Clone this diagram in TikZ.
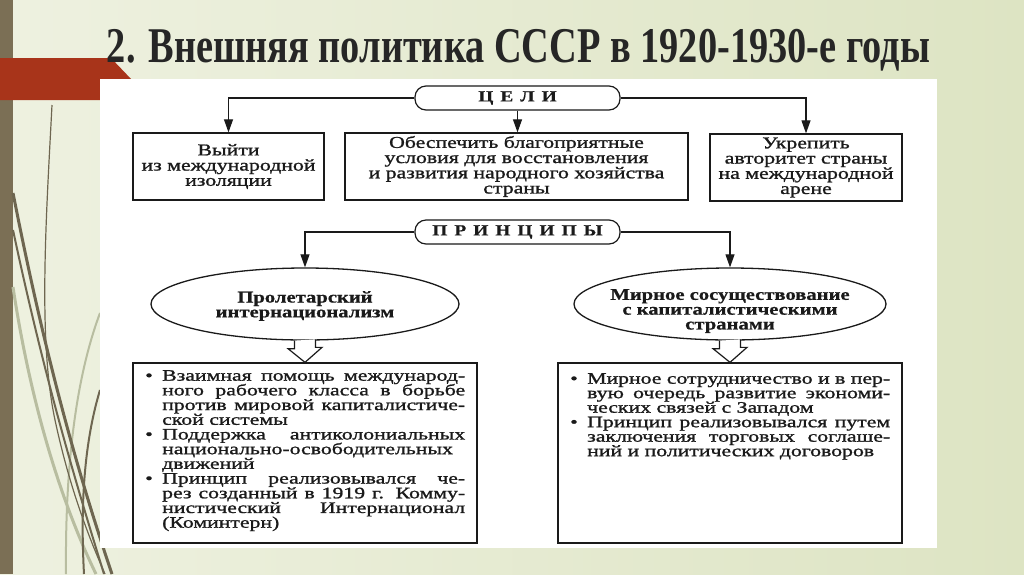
\documentclass[tikz,border=0pt]{standalone}
\usepackage{fontspec}
\usepackage{graphicx}
\setmainfont{Liberation Serif}
\newfontfamily\df[FakeStretch=1.32,FakeBold=1.2]{Liberation Serif}
\newfontfamily\dfl[FakeStretch=1.36,FakeBold=1.2]{Liberation Serif}
\newfontfamily\dfb[FakeStretch=1.25,FakeBold=0.6]{Liberation Serif}
\usetikzlibrary{arrows.meta,shapes.geometric}
\definecolor{bgl}{HTML}{EEF1E0}
\definecolor{bgr}{HTML}{DDE4C3}
\definecolor{barcol}{HTML}{7B6F55}
\definecolor{redcol}{HTML}{A8341A}
\definecolor{curvedark}{HTML}{6E6650}
\definecolor{curvelight}{HTML}{B8BDA0}
\definecolor{inkcol}{HTML}{1A1A1A}
\definecolor{titlecol}{HTML}{262626}
\newcommand\tightlines{\lineskiplimit=-50pt\lineskip=0pt}
\newcommand\boxfont{\df\fontsize{16.5}{15.2}\selectfont\tightlines}
\newcommand\listfonta{\dfl\fontsize{16}{14.7}\selectfont\tightlines}
\newcommand\listfontb{\dfl\fontsize{16}{14.5}\selectfont\tightlines}
\newcommand\pillfont{\dfb\bfseries\fontsize{15.5}{15}\selectfont}
\newcommand\ovalfont{\dfb\bfseries\fontsize{16.5}{14.8}\selectfont\tightlines}
\newlength\jlw
\newcommand\jline[2]{\settowidth\jlw{#2}\ifdim\jlw>#1\relax\resizebox{#1}{\height}{#2}\else\makebox[#1][s]{#2}\fi}
\newcommand\bitem[1]{\makebox[17pt][l]{\textbullet}\jline{303pt}{#1}}
\newcommand\citem[1]{\hspace*{17pt}\jline{303pt}{#1}}
\newcommand\litem[1]{\hspace*{17pt}#1}
\begin{document}
\begin{tikzpicture}[x=1pt,y=-1pt,
  conn/.style={line width=1.1pt,draw=inkcol,-{Triangle[length=13pt,width=9pt]}},
  pill/.style={draw=inkcol,line width=1.2pt,rounded corners=11pt,minimum width=205pt,minimum height=24pt,inner sep=0pt,font=\pillfont,text=inkcol},
  goalbox/.style={draw=inkcol,line width=1.3pt,minimum height=67pt,inner sep=0pt,align=center,font=\boxfont,text=inkcol},
  oval/.style={draw=inkcol,ellipse,line width=1.3pt,minimum height=72pt,inner sep=0pt},
  ovaltext/.style={align=center,font=\ovalfont,inner sep=0pt,text=inkcol},
  listbox/.style={draw=inkcol,line width=1.3pt,minimum width=344pt,minimum height=180pt,inner sep=0pt},
  listtext/.style={anchor=north west,inner sep=0pt,align=left,text=inkcol},
  hollow/.style={draw=inkcol,line width=1.2pt,fill=white,line join=miter}]
\useasboundingbox (0,0) rectangle (1024,574);
% background
\shade[left color=bgl,right color=bgr] (0,0) rectangle (1024,574);
\fill[barcol] (0,0) rectangle (13,574);
% decorative curves
\draw[curvelight,line width=3pt] (13,287) .. controls (30,400) and (60,500) .. (96,574);
\draw[curvelight,line width=2pt] (100,313) .. controls (75,380) and (65,470) .. (66,574);
\draw[curvedark,line width=1.2pt] (52,105) .. controls (46,220) and (38,340) .. (55,420) .. controls (70,490) and (90,540) .. (105,574);
\draw[curvedark,line width=3pt] (13,193) .. controls (40,330) and (70,450) .. (112,574);
\draw[curvedark,line width=2pt] (13,230) .. controls (45,380) and (75,480) .. (104,574);
\draw[curvedark,line width=2pt] (100,390) .. controls (85,440) and (80,500) .. (84,574);
% red band
\fill[redcol] (13,58) -- (111,58) -- (132,80) -- (110,100) -- (0,100) -- (0,58) -- cycle;
% white panel
\fill[white] (100,79) rectangle (937,548);
% title
\node[anchor=base,text=titlecol,inner sep=0pt] (title) at (518.5,62) {\resizebox{823pt}{\height}{\fontsize{50}{50}\selectfont\bfseries 2. Внешняя политика СССР в 1920-1930-е годы}};
% goals
\node[pill] (goals) at (517.5,98) {Ц\hspace{7pt}Е\hspace{7pt}Л\hspace{7pt}И};
\node[goalbox,minimum width=191pt] (b1) at (228.5,166.5) {Выйти\\из международной\\изоляции};
\node[goalbox,minimum width=343pt] (b2) at (516.5,166.5) {Обеспечить благоприятные\\условия для восстановления\\и развития народного хозяйства\\страны};
\node[goalbox,minimum width=192pt] (b3) at (806,167.5) {Укрепить\\авторитет страны\\на международной\\арене};
\draw[conn] (goals.west) -| (b1.north);
\draw[conn] (goals.south) -- (goals.south |- b2.north);
\draw[conn] (goals.east) -| (b3.north);
% principles
\node[pill] (pr) at (517.5,232) {П\hspace{7pt}Р\hspace{7pt}И\hspace{7pt}Н\hspace{7pt}Ц\hspace{7pt}И\hspace{7pt}П\hspace{7pt}Ы};
\node[oval,minimum width=308pt] (e1) at (305,304) {};
\node[ovaltext] (e1t) at (305,306) {Пролетарский\\интернационализм};
\node[oval,minimum width=312pt] (e2) at (730,304) {};
\node[ovaltext] (e2t) at (730,311) {Мирное сосуществование\\с капиталистическими\\странами};
\draw[conn] (pr.west) -| (e1.north);
\draw[conn] (pr.east) -| (e2.north);
% list boxes
\node[listbox] (b4) at (305,453) {};
\node[listbox] (b5) at (730,453) {};
\draw[hollow] (e1.south) ++(-10.5,0) -- ++(0,8) -- ++(-6.5,0) -- (b4.north) -- ++(17,-15) -- ++(-6.5,0) -- ++(0,-8);
\draw[hollow] (e2.south) ++(-10.5,0) -- ++(0,8) -- ++(-6.5,0) -- (b5.north) -- ++(17,-15) -- ++(-6.5,0) -- ++(0,-8);
\node[listtext,font=\listfonta] (t4) at (145,370) {%
\bitem{Взаимная помощь международ-}\\
\citem{ного рабочего класса в борьбе}\\
\citem{против мировой капиталистиче-}\\
\litem{ской системы}\\
\bitem{Поддержка антиколониальных}\\
\citem{национально-освободительных}\\
\litem{движений}\\
\bitem{Принцип реализовывался че-}\\
\citem{рез созданный в 1919 г. Комму-}\\
\citem{нистический Интернационал}\\
\litem{(Коминтерн)}};
\node[listtext,font=\listfontb] (t5) at (570,373) {%
\bitem{Мирное сотрудничество и в пер-}\\
\citem{вую очередь развитие экономи-}\\
\litem{ческих связей с Западом}\\
\bitem{Принцип реализовывался путем}\\
\citem{заключения торговых соглаше-}\\
\litem{ний и политических договоров}};
\end{tikzpicture}
\end{document}
